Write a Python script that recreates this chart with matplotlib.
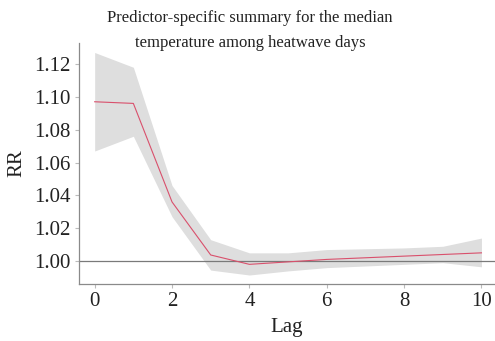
import matplotlib
matplotlib.use("Agg")
import matplotlib.pyplot as plt

lags = [0, 1, 2, 3, 4, 5, 6, 7, 8, 9, 10]
rr = [1.097, 1.096, 1.036, 1.0037, 0.998, 0.9995, 1.001, 1.002, 1.003, 1.004, 1.005]
rr_low = [1.067, 1.076, 1.027, 0.9945, 0.9915, 0.994, 0.996, 0.997, 0.998, 0.999, 0.9965]
rr_high = [1.127, 1.118, 1.046, 1.013, 1.005, 1.005, 1.007, 1.0075, 1.008, 1.009, 1.014]

xticks = [0, 2, 4, 6, 8, 10]
yticks = [1.00, 1.02, 1.04, 1.06, 1.08, 1.10, 1.12]

plt.rcParams["font.family"] = ["Liberation Serif", "DejaVu Serif"]

fig = plt.figure(figsize=(4.95, 3.41), dpi=100)
ax = fig.add_axes([0.16, 0.167, 0.84, 0.707])

ax.fill_between(lags, rr_low, rr_high, color="#dedede", lw=0)
ax.axhline(1.0, color="#7a7a7a", lw=0.9)
ax.plot(lags, rr, color="#d9506c", lw=0.8)

ax.set_xlim(-0.4, 10.35)
ax.set_ylim(0.986, 1.1328)
ax.set_xticks(xticks)
ax.set_yticks(yticks)
ax.set_yticklabels([f"{v:.2f}" for v in yticks])
ax.tick_params(labelsize=15, length=3, width=0.8, color="#bbbbbb", labelcolor="#222222", pad=3)
for side in ["top", "right"]:
    ax.spines[side].set_visible(False)
for side in ["left", "bottom"]:
    ax.spines[side].set_color("#8a8a8a")
    ax.spines[side].set_linewidth(0.9)

ax.set_xlabel("Lag", fontsize=15, color="#222222", labelpad=5)
ax.set_ylabel("RR", fontsize=15, color="#222222", labelpad=6)

fig.text(0.505, 0.97, "Predictor-specific summary for the median\ntemperature among heatwave days",
         ha="center", va="top", fontsize=12, color="#222222", linespacing=1.75)

fig.savefig("out.png", dpi=100)
